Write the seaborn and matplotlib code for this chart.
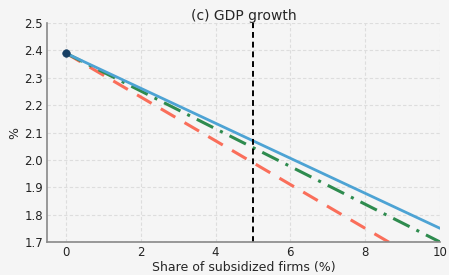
import matplotlib
matplotlib.use("Agg")
import matplotlib.pyplot as plt
import seaborn as sns
import pandas as pd

# share of subsidized firms (%) and GDP growth (%) under three scenarios
share = [0, 1, 2, 3, 4, 5, 6, 7, 8, 9, 10]
gdp_a = [2.39, 2.326, 2.262, 2.198, 2.134, 2.07, 2.006, 1.942, 1.878, 1.814, 1.75]
gdp_b = [2.39, 2.321, 2.252, 2.183, 2.114, 2.045, 1.976, 1.907, 1.838, 1.769, 1.70]
gdp_c = [2.39, 2.31, 2.23, 2.15, 2.07, 1.99, 1.91, 1.83, 1.75, 1.67, 1.59]
baseline_x = [0]
baseline_y = [2.39]
policy_share = 5

df = pd.DataFrame({"share": share, "a": gdp_a, "b": gdp_b, "c": gdp_c})

sns.set_style("whitegrid")
plt.rcParams['font.family'] = ['DejaVu Sans']

fig = plt.figure(figsize=(4.49, 2.75), dpi=100, facecolor="#f5f5f5")
ax = fig.add_axes([0.105, 0.12, 0.875, 0.796])
ax.set_facecolor("#f5f5f5")

sns.lineplot(data=df, x="share", y="c", ax=ax, color="#fa6e5a", lw=2.2,
             linestyle=(0, (5.5, 3.5)))
sns.lineplot(data=df, x="share", y="b", ax=ax, color="#2e8b4e", lw=2.2,
             linestyle=(0, (6, 2.5, 1, 2.5)))
sns.lineplot(data=df, x="share", y="a", ax=ax, color="#4da3d4", lw=2.0)
sns.scatterplot(x=baseline_x, y=baseline_y, ax=ax, color="#173f63", s=30,
                edgecolor="#173f63", zorder=5)
ax.axvline(policy_share, color="black", lw=1.4, linestyle=(0, (3, 2)))

ax.set_xlim(-0.5, 10)
ax.set_ylim(1.7, 2.5)
ax.set_xticks([0, 2, 4, 6, 8, 10])
ax.set_yticks([1.7, 1.8, 1.9, 2.0, 2.1, 2.2, 2.3, 2.4, 2.5])
ax.grid(True, color="#dddddd", linestyle=(0, (3, 2)), lw=0.8)
ax.set_title("(c) GDP growth", fontsize=10, pad=2)
ax.set_xlabel("Share of subsidized firms (%)", fontsize=9, labelpad=1)
ax.set_ylabel("%", fontsize=9, labelpad=2)
ax.tick_params(labelsize=8.5, colors="#222222", length=0, pad=3)
for s in ["top", "right"]:
    ax.spines[s].set_visible(False)
for s in ["left", "bottom"]:
    ax.spines[s].set_color("#888888")
    ax.spines[s].set_linewidth(1.2)

fig.savefig("out.png", dpi=100, facecolor=fig.get_facecolor())
